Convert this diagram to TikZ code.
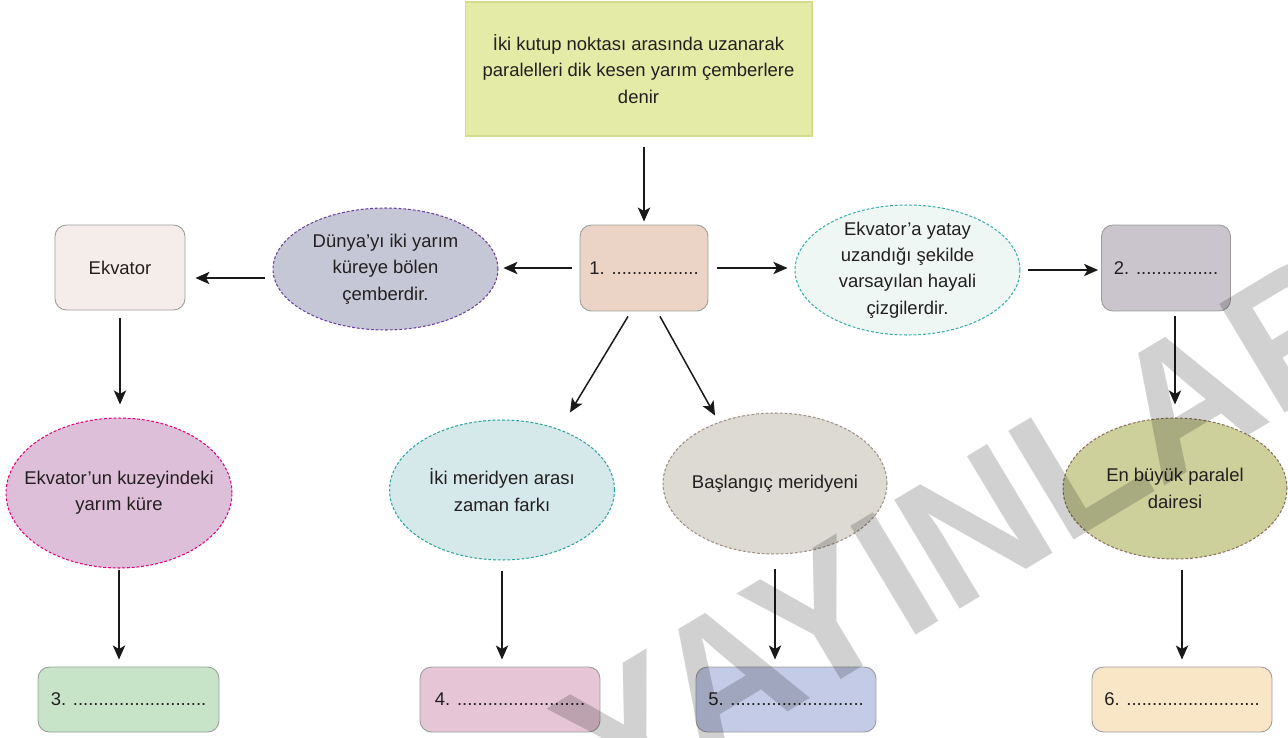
\documentclass[tikz,border=0pt]{standalone}
\usepackage{fontspec}
\setmainfont{Liberation Sans}
\usetikzlibrary{arrows.meta,shapes.geometric}
\definecolor{yazi}{HTML}{231F20}
\definecolor{ustdolgu}{HTML}{E4EBA6}
\definecolor{ustkenar}{HTML}{D3DB8E}
\definecolor{kenar}{HTML}{9C9C9C}
\definecolor{birdolgu}{HTML}{EBD4C5}
\definecolor{ekvdolgu}{HTML}{F5EDEA}
\definecolor{ikidolgu}{HTML}{CAC5CC}
\definecolor{ucdolgu}{HTML}{C7E4C8}
\definecolor{dortdolgu}{HTML}{E6C6D6}
\definecolor{besdolgu}{HTML}{C3CBE7}
\definecolor{altidolgu}{HTML}{F9E6C6}
\definecolor{dunyadolgu}{HTML}{C6C7D6}
\definecolor{dunyakenar}{HTML}{6B3FA0}
\definecolor{kuzeydolgu}{HTML}{DEBFD9}
\definecolor{kuzeykenar}{HTML}{E5007D}
\definecolor{yataydolgu}{HTML}{EEF7F3}
\definecolor{yataykenar}{HTML}{3AAFA9}
\definecolor{meriddolgu}{HTML}{D5E9EA}
\definecolor{meridkenar}{HTML}{2BA59B}
\definecolor{basldolgu}{HTML}{DDDAD4}
\definecolor{baslkenar}{HTML}{A08F84}
\definecolor{buyukdolgu}{HTML}{CDD09B}
\definecolor{buyukkenar}{HTML}{8B6F5E}

\begin{document}
\begin{tikzpicture}[x=0.02cm,y=-0.02cm,
    font=\fontsize{10.5}{15}\selectfont,
    kutu/.style={draw=kenar, line width=0.5pt, rounded corners=6.5pt, align=center, text=yazi, inner sep=0pt},
    elips/.style={ellipse, line width=0.6pt, dash pattern=on 1.6pt off 1.1pt, align=center, text=yazi, inner xsep=-40pt, inner ysep=-30pt},
    ok/.style={-{Stealth[length=8pt,width=7pt,inset=2pt]}, line width=0.85pt, black!90},
    filigran/.style={rotate=31, text=black, text opacity=0.18, inner sep=0pt, font=\fontsize{105}{105}\selectfont\bfseries}]
\useasboundingbox (0,0) rectangle (1288,737);

% Tanim kutusu
\node[draw=ustkenar, line width=0.6pt, fill=ustdolgu, minimum width=6.94cm, minimum height=2.68cm, align=center, text=yazi] (tanim) at (638.5,69)
    {İki kutup noktası arasında uzanarak\\paralelleri dik kesen yarım çemberlere\\denir};

% Ust sira
\node[kutu, fill=birdolgu, minimum width=2.56cm, minimum height=1.72cm] (bir) at (644,268) {1. .................};
\node[elips, draw=dunyakenar, fill=dunyadolgu, minimum width=4.5cm, minimum height=2.44cm] (dunya) at (385.5,269)
    {Dünya’yı iki yarım\\küreye bölen\\çemberdir.};
\node[kutu, fill=ekvdolgu, minimum width=2.6cm, minimum height=1.7cm] (ekvator) at (120,267.5) {Ekvator};
\node[elips, draw=yataykenar, fill=yataydolgu, minimum width=4.5cm, minimum height=2.6cm] (yatay) at (907.5,270)
    {Ekvator’a yatay\\uzandığı şekilde\\varsayılan hayali\\çizgilerdir.};
\node[kutu, fill=ikidolgu, minimum width=2.58cm, minimum height=1.72cm] (iki) at (1166,268) {2. ................};

% Orta sira
\node[elips, draw=kuzeykenar, fill=kuzeydolgu, minimum width=4.52cm, minimum height=3cm] (kuzey) at (119,493)
    {Ekvator’un kuzeyindeki\\yarım küre};
\node[elips, draw=meridkenar, fill=meriddolgu, minimum width=4.5cm, minimum height=2.8cm] (meridyen) at (502,490)
    {İki meridyen arası\\zaman farkı};
\node[elips, draw=baslkenar, fill=basldolgu, minimum width=4.48cm, minimum height=2.82cm] (baslangic) at (775,483.5)
    {Başlangıç meridyeni};
\node[elips, draw=buyukkenar, fill=buyukdolgu, minimum width=4.48cm, minimum height=2.82cm] (buyuk) at (1175,488.5)
    {En büyük paralel\\dairesi};

% Alt sira
\node[kutu, fill=ucdolgu, minimum width=3.62cm, minimum height=1.3cm] (uc) at (128.5,699.5) {3. ..........................};
\node[kutu, fill=dortdolgu, minimum width=3.6cm, minimum height=1.3cm] (dort) at (510,699.5) {4. .........................};
\node[kutu, fill=besdolgu, minimum width=3.6cm, minimum height=1.3cm] (bes) at (786,699.5) {5. ..........................};
\node[kutu, fill=altidolgu, minimum width=3.6cm, minimum height=1.3cm] (alti) at (1182,699.5) {6. ..........................};

% Oklar
\draw[ok, shorten <=6.2pt, shorten >=1.7pt] (tanim.south -| bir.north) -- (bir.north);
\draw[ok, shorten <=4.5pt, shorten >=2.8pt] (bir.west) -- (bir.west -| dunya.east);
\coordinate (dsol) at ([shift={(0,9)}]dunya.west);
\draw[ok, shorten <=4.5pt, shorten >=5.7pt] (dsol) -- (dsol -| ekvator.east);
\draw[ok, shorten <=5pt, shorten >=4pt] (bir.east) -- (bir.east -| yatay.west);
\draw[ok, shorten <=4pt, shorten >=1.7pt] (yatay.east) -- (yatay.east -| iki.west);
\draw[ok, shorten <=2.8pt, shorten >=7.4pt] (buyuk.north |- iki.south) -- (buyuk.north);
\draw[ok, shorten <=5.7pt, shorten >=4pt] (alti.north |- buyuk.south) -- (alti.north);
\draw[ok, shorten <=4.5pt, shorten >=7.4pt] (ekvator.south) -- (ekvator.south |- kuzey.north);
\draw[ok, shorten <=1.1pt, shorten >=4pt] (kuzey.south) -- (kuzey.south |- uc.north);
\draw[ok, shorten <=5.7pt, shorten >=4pt] (meridyen.south) -- (meridyen.south |- dort.north);
\draw[ok, shorten <=8.5pt, shorten >=4pt] (baslangic.south) -- (baslangic.south |- bes.north);
\draw[ok] ([shift={(-16,5)}]bir.south) -- ([shift={(68,-7)}]meridyen.north);
\draw[ok] ([shift={(16,5)}]bir.south) -- ([shift={(-60,3)}]baslangic.north);

% Filigran
\node[filigran] (yayin) at (966,531) {YAYINLAR};
\end{tikzpicture}
\end{document}
